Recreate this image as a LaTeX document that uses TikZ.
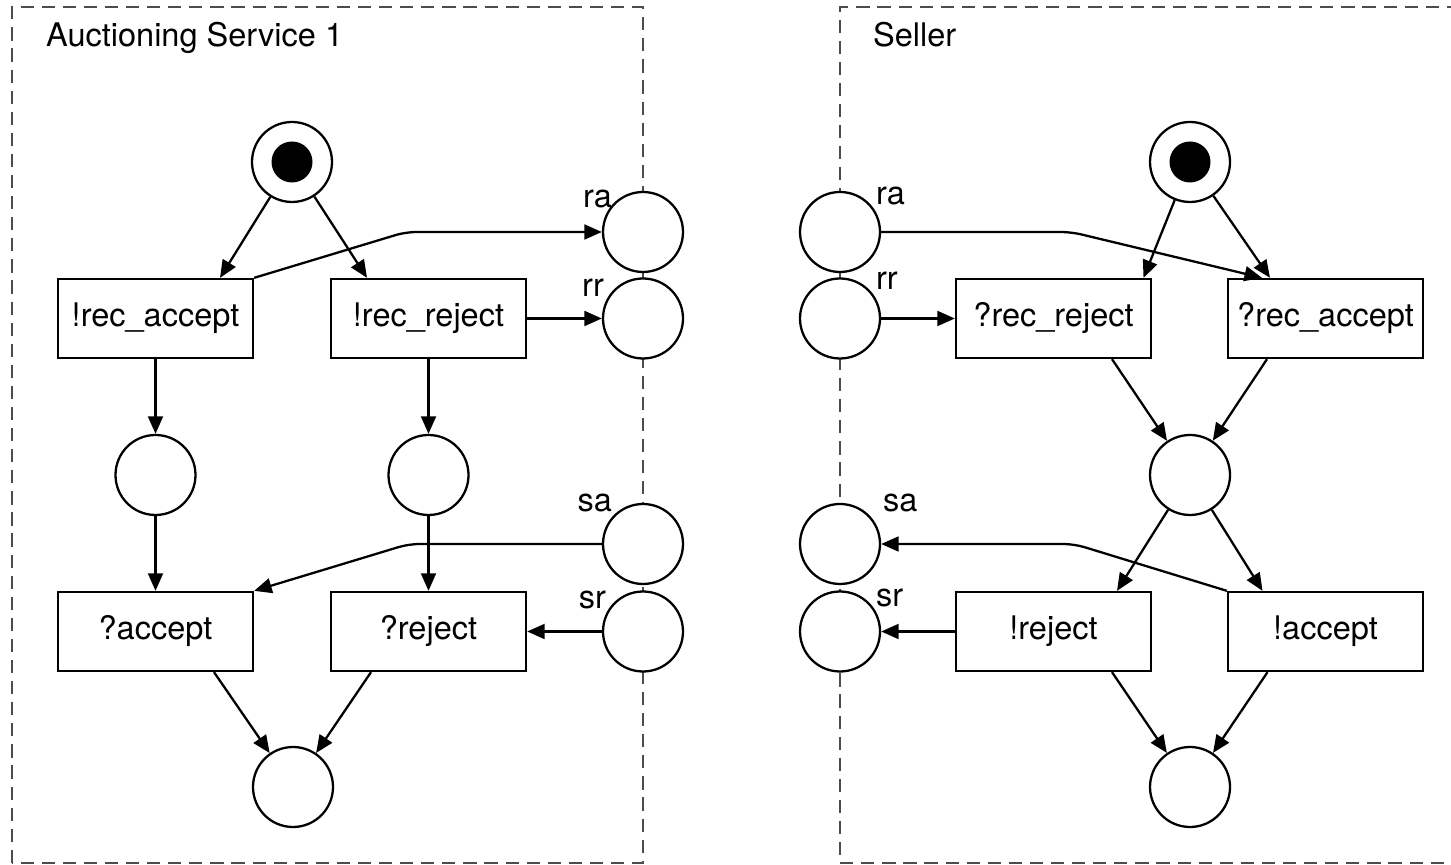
\documentclass[tikz,border=0pt]{standalone}
\usepackage{fontspec}
\setmainfont{TeX Gyre Heros}
\usetikzlibrary{arrows.meta}

\begin{document}
\begin{tikzpicture}[line width=1.3pt, >={Triangle[length=10pt,width=8.5pt]}]
	\tikzstyle{every node}=[font=\fontsize{18.5}{22}\selectfont, inner sep=0pt]
	\tikzstyle{place}=[draw, circle, fill=white, minimum size=1.6cm]
	\tikzstyle{trans}=[draw, rectangle, fill=white, minimum width=3.9cm, minimum height=1.58cm]
	\tikzstyle{token}=[fill, circle, minimum size=0.82cm]
	\tikzstyle{boxline}=[dash pattern=on 7.5pt off 4.5pt, black!70, line width=0.9pt]
	\useasboundingbox (0,0) rectangle (29.02,17.3);
	% the two services
	\draw[boxline] (0.24,0.04) rectangle (12.86,17.16);
	\draw[boxline] (29.2,17.16) -- (16.8,17.16) -- (16.8,0.04) -- (29.2,0.04);
	\draw (0.9,16.36) node (h1) [anchor=base west] {Auctioning Service 1};
	\draw (17.44,16.36) node (h2) [anchor=base west] {Seller};
	% left net
	\draw (5.84,14.06) node (i1) [place] {};
	\draw (5.84,14.06) node (k1) [token] {};
	\draw (3.11,10.93) node (t1) [trans] {!rec\_accept};
	\draw (8.57,10.93) node (t2) [trans] {!rec\_reject};
	\draw (3.11,7.8) node (p1) [place] {};
	\draw (8.57,7.8) node (p2) [place] {};
	\draw (3.11,4.67) node (t3) [trans] {?accept};
	\draw (8.57,4.67) node (t4) [trans] {?reject};
	\draw (5.86,1.56) node (f1) [place] {};
	% channels
	\draw (12.86,12.66) node (ra1) [place] {};
	\draw (12.86,10.93) node (rr1) [place] {};
	\draw (12.86,6.42) node (sa1) [place] {};
	\draw (12.86,4.67) node (sr1) [place] {};
	\draw (16.8,12.66) node (ra2) [place] {};
	\draw (16.8,10.93) node (rr2) [place] {};
	\draw (16.8,6.42) node (sa2) [place] {};
	\draw (16.8,4.67) node (sr2) [place] {};
	\draw (12.26,13.14) node (l1) [anchor=base east] {ra};
	\draw (12.1,11.36) node (l2) [anchor=base east] {rr};
	\draw (12.26,7.06) node (l3) [anchor=base east] {sa};
	\draw (12.14,5.12) node (l4) [anchor=base east] {sr};
	\draw (17.5,13.2) node (l5) [anchor=base west] {ra};
	\draw (17.5,11.5) node (l6) [anchor=base west] {rr};
	\draw (17.64,7.06) node (l7) [anchor=base west] {sa};
	\draw (17.5,5.16) node (l8) [anchor=base west] {sr};
	% right net
	\draw (23.8,14.06) node (i2) [place] {};
	\draw (23.8,14.06) node (k2) [token] {};
	\draw (21.07,10.93) node (t5) [trans] {?rec\_reject};
	\draw (26.51,10.93) node (t6) [trans] {?rec\_accept};
	\draw (23.8,7.8) node (p3) [place] {};
	\draw (21.07,4.67) node (t7) [trans] {!reject};
	\draw (26.51,4.67) node (t8) [trans] {!accept};
	\draw (23.8,1.56) node (f2) [place] {};
	% arcs left
	\draw[->] (i1) -- ([xshift=1.29cm]t1.north);
	\draw[->] (i1) -- ([xshift=-1.23cm]t2.north);
	\draw[->, rounded corners=6pt] (t1.north east) -- ([xshift=-3.92cm]ra1.west) -- (ra1.west);
	\draw[->] (t2.east) -- (rr1.west);
	\draw[->] (t1) -- (p1);
	\draw[->] (t2) -- (p2);
	\draw[->] (p1) -- (t3);
	\draw[->] (p2) -- (t4);
	\draw[->, rounded corners=6pt] (sa1.west) -- ([xshift=-3.86cm]sa1.west) -- (t3.north east);
	\draw[->] (sr1.west) -- (t4.east);
	\draw[->] ([xshift=1.17cm]t3.south) -- (f1);
	\draw[->] ([xshift=-1.15cm]t4.south) -- (f1);
	% arcs right
	\draw[->] (i2) -- ([xshift=1.8cm]t5.north);
	\draw[->] (i2) -- ([xshift=-1.11cm]t6.north);
	\draw[->, rounded corners=6pt] (ra2.east) -- ([xshift=3.8cm]ra2.east) -- ([xshift=-1.27cm]t6.north);
	\draw[->] (rr2.east) -- (t5.west);
	\draw[->] ([xshift=1.17cm]t5.south) -- (p3);
	\draw[->] ([xshift=-1.17cm]t6.south) -- (p3);
	\draw[->] (p3) -- ([xshift=1.27cm]t7.north);
	\draw[->] (p3) -- ([xshift=-1.26cm]t8.north);
	\draw[->, rounded corners=6pt] (t8.north west) -- ([xshift=3.86cm]sa2.east) -- (sa2.east);
	\draw[->] (t7.west) -- (sr2.east);
	\draw[->] ([xshift=1.17cm]t7.south) -- (f2);
	\draw[->] ([xshift=-1.16cm]t8.south) -- (f2);
\end{tikzpicture}
\end{document}
